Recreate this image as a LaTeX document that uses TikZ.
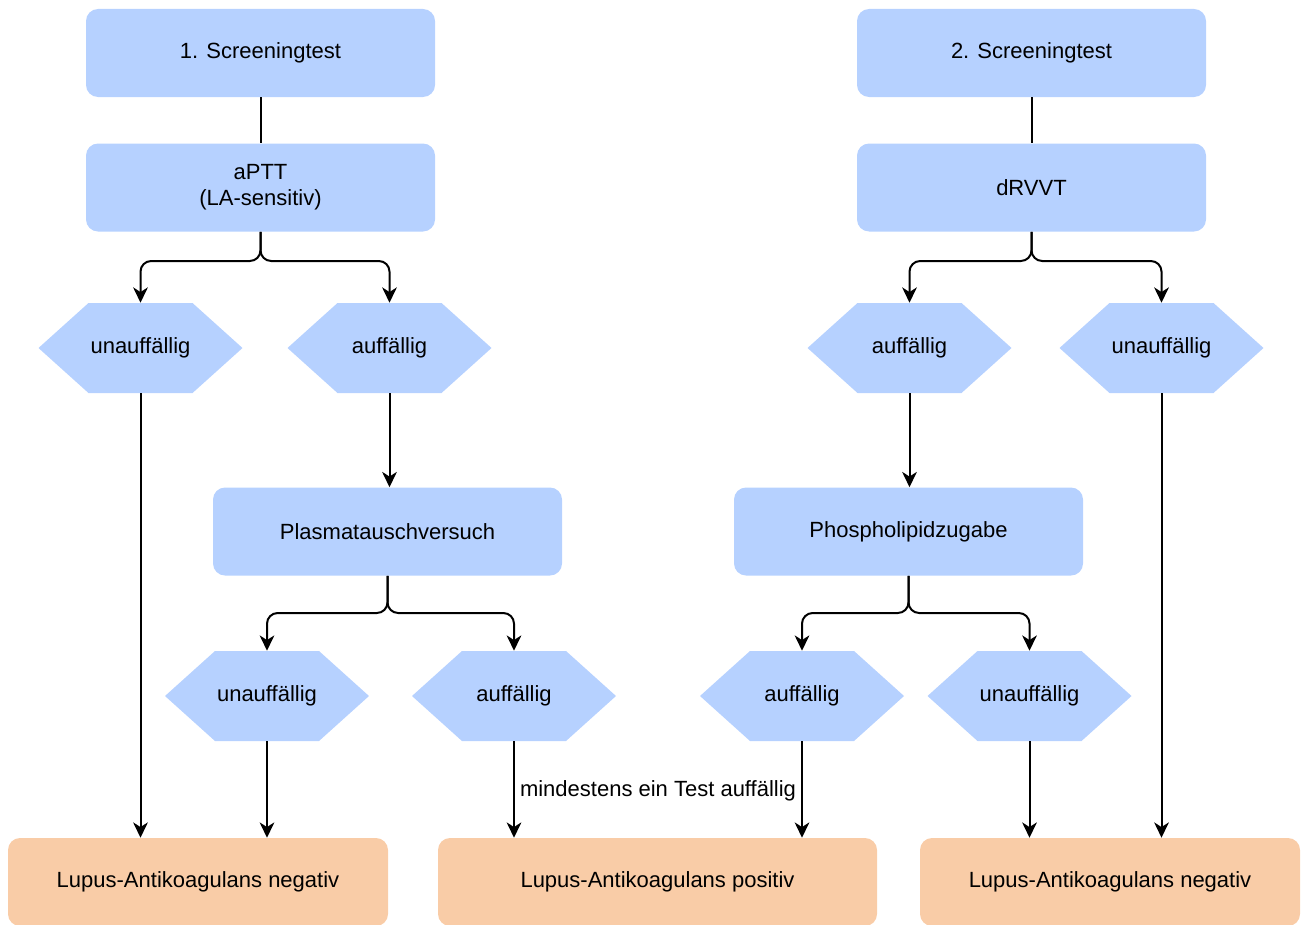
\documentclass[tikz,border=0pt]{standalone}
\usepackage{fontspec}
\setmainfont{Liberation Sans}
\usetikzlibrary{arrows.meta,calc}
\definecolor{boxblue}{RGB}{182,209,255}
\definecolor{boxorange}{RGB}{249,204,167}
\tikzset{
  every node/.style={font=\fontsize{16.5}{19.5}\selectfont, inner sep=0pt},
  bluebox/.style={fill=boxblue, rounded corners=9pt, minimum width={349*0.75pt}, minimum height={88*0.75pt}, align=center},
  orangebox/.style={fill=boxorange, rounded corners=9pt, minimum height={88*0.75pt}},
  hexa/.style={minimum width={204*0.75pt}, minimum height={90*0.75pt},
    path picture={\fill[boxblue] (path picture bounding box.west)
      -- ([xshift=37.5pt]path picture bounding box.north west)
      -- ([xshift=-37.5pt]path picture bounding box.north east)
      -- (path picture bounding box.east)
      -- ([xshift=-37.5pt]path picture bounding box.south east)
      -- ([xshift=37.5pt]path picture bounding box.south west) -- cycle;}},
  conn/.style={line width=1.5pt, black},
  arr/.style={conn, -{Stealth[length=11.5pt, width=11pt, inset=3.5pt]}},
}
\begin{document}
\begin{tikzpicture}[x=0.75pt, y=-0.75pt]
\useasboundingbox (0,0) rectangle (1301,924);
% top boxes
\node[bluebox] (s1) at (260.5,53) {1. Screeningtest};
\node[bluebox] (aptt) at (260.5,187.5) {aPTT\\(LA-sensitiv)};
\node[bluebox] (s2) at (1031.5,53) {2. Screeningtest};
\node[bluebox] (drvvt) at (1031.5,187.5) {dRVVT};
% upper hexagons
\node[hexa] (u1) at (140.5,348) {unauffällig};
\node[hexa] (a1) at (389.5,348) {auffällig};
\node[hexa] (a2) at (909.5,348) {auffällig};
\node[hexa] (u2) at (1161.5,348) {unauffällig};
% middle boxes
\node[bluebox] (plasma) at (387.5,531.5) {Plasmatauschversuch};
\node[bluebox] (phos) at (908.5,531.5) {Phospholipidzugabe};
% lower hexagons
\node[hexa] (u3) at (267,696) {unauffällig};
\node[hexa] (a3) at (514,696) {auffällig};
\node[hexa] (a4) at (802,696) {auffällig};
\node[hexa] (u4) at (1029.5,696) {unauffällig};
% bottom boxes
\node[orangebox, minimum width={380*0.75pt}] (neg1) at (198,882) {Lupus-Antikoagulans negativ};
\node[orangebox, minimum width={439*0.75pt}] (pos) at (657.5,882) {Lupus-Antikoagulans positiv};
\node[orangebox, minimum width={380*0.75pt}] (neg2) at (1110,882) {Lupus-Antikoagulans negativ};
% split points
\coordinate (sp1) at (260.5,261);
\coordinate (sp2) at (1031.5,261);
\coordinate (sp3) at (387.5,613);
\coordinate (sp4) at (908.5,613);
% connectors
\draw[conn] (s1) -- (aptt);
\draw[conn] (s2) -- (drvvt);
\draw[arr, rounded corners=8pt] (aptt.south) -- (sp1) -| (u1.north);
\draw[arr, rounded corners=8pt] (aptt.south) -- (sp1) -| (a1.north);
\draw[arr, rounded corners=8pt] (drvvt.south) -- (sp2) -| (a2.north);
\draw[arr, rounded corners=8pt] (drvvt.south) -- (sp2) -| (u2.north);
\draw[arr] (a1.south) -- (a1.south |- plasma.north);
\draw[arr] (a2.south) -- (a2.south |- phos.north);
\draw[arr, rounded corners=8pt] (plasma.south) -- (sp3) -| (u3.north);
\draw[arr, rounded corners=8pt] (plasma.south) -- (sp3) -| (a3.north);
\draw[arr, rounded corners=8pt] (phos.south) -- (sp4) -| (a4.north);
\draw[arr, rounded corners=8pt] (phos.south) -- (sp4) -| (u4.north);
\draw[arr] (u1.south) -- (u1.south |- neg1.north);
\draw[arr] (u3.south) -- (u3.south |- neg1.north);
\draw[arr] (a3.south) -- (a3.south |- pos.north);
\draw[arr] (a4.south) -- (a4.south |- pos.north);
\draw[arr] (u4.south) -- (u4.south |- neg2.north);
\draw[arr] (u2.south) -- (u2.south |- neg2.north);
\node (lbl) at (658,791) {mindestens ein Test auffällig};
\end{tikzpicture}
\end{document}
